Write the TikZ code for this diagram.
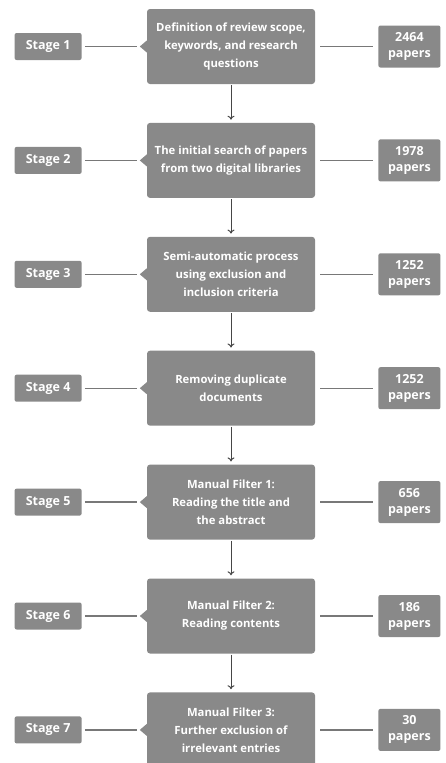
\documentclass[tikz,border=0pt]{standalone}
\usepackage{fontspec}
\setmainfont{Open Sans}
\usetikzlibrary{arrows.meta, positioning}
\definecolor{boxgray}{RGB}{137, 137, 137}
\definecolor{linkgray}{RGB}{120, 120, 120}
\definecolor{arrowgray}{RGB}{70, 70, 70}
\tikzset{
    stepbox/.style={rectangle, fill=boxgray, text=white, minimum width=168pt, minimum height=75pt, align=center, rounded corners=3pt, font=\bfseries\fontsize{11.3}{18}\selectfont},
    stagebox/.style={rectangle, fill=boxgray, text=white, minimum width=67pt, minimum height=27pt, rounded corners=2pt, font=\bfseries\fontsize{12.5}{15}\selectfont},
    countbox/.style={rectangle, fill=boxgray, text=white, minimum width=62pt, minimum height=42pt, align=center, rounded corners=2pt, font=\bfseries\fontsize{12.5}{16}\selectfont},
    pointer/.style={fill=boxgray},
    link/.style={linkgray, line width=1.3pt},
    arrow/.style={-{To[length=4pt, width=7pt]}, arrowgray, line width=1pt, shorten <=1pt, shorten >=3pt}
}
\begin{document}
\begin{tikzpicture}[x=1pt, y=1pt, node distance=38.5pt and 65pt]
            \useasboundingbox (0,0) rectangle (445,-763);
            % middle column
            \node (scope) [stepbox] at (231,-46.5) {Definition of review scope,\\keywords, and research\\questions};
            \node (search) [stepbox, below=of scope] {The initial search of papers\\from two digital libraries};
            \node (semiauto) [stepbox, below=of search] {Semi-automatic process\\using exclusion and\\inclusion criteria};
            \node (dedup) [stepbox, below=of semiauto] {Removing duplicate\\documents};
            \node (filter1) [stepbox, below=of dedup] {Manual Filter 1:\\Reading the title and\\the abstract};
            \node (filter2) [stepbox, below=of filter1] {Manual Filter 2:\\Reading contents};
            \node (filter3) [stepbox, below=of filter2] {Manual Filter 3:\\Further exclusion of\\irrelevant entries};

            % stages
            \node (stage1) [stagebox, left=65pt of scope] {Stage 1};
            \node (stage2) [stagebox, left=65pt of search] {Stage 2};
            \node (stage3) [stagebox, left=65pt of semiauto] {Stage 3};
            \node (stage4) [stagebox, left=65pt of dedup] {Stage 4};
            \node (stage5) [stagebox, left=65pt of filter1] {Stage 5};
            \node (stage6) [stagebox, left=65pt of filter2] {Stage 6};
            \node (stage7) [stagebox, left=65pt of filter3] {Stage 7};

            % paper counts
            \node (count1) [countbox, right=63pt of scope] {2464\\papers};
            \node (count2) [countbox, right=63pt of search] {1978\\papers};
            \node (count3) [countbox, right=63pt of semiauto] {1252\\papers};
            \node (count4) [countbox, right=63pt of dedup] {1252\\papers};
            \node (count5) [countbox, right=63pt of filter1] {656\\papers};
            \node (count6) [countbox, right=63pt of filter2] {186\\papers};
            \node (count7) [countbox, right=63pt of filter3] {30\\papers};

            % pointers
            \fill [pointer] ([yshift=6pt]scope.west) -- ([xshift=-7pt]scope.west) -- ([yshift=-6pt]scope.west) -- cycle;
            \fill [pointer] ([yshift=6pt]search.west) -- ([xshift=-7pt]search.west) -- ([yshift=-6pt]search.west) -- cycle;
            \fill [pointer] ([yshift=6pt]semiauto.west) -- ([xshift=-7pt]semiauto.west) -- ([yshift=-6pt]semiauto.west) -- cycle;
            \fill [pointer] ([yshift=6pt]dedup.west) -- ([xshift=-7pt]dedup.west) -- ([yshift=-6pt]dedup.west) -- cycle;
            \fill [pointer] ([yshift=6pt]filter1.west) -- ([xshift=-7pt]filter1.west) -- ([yshift=-6pt]filter1.west) -- cycle;
            \fill [pointer] ([yshift=6pt]filter2.west) -- ([xshift=-7pt]filter2.west) -- ([yshift=-6pt]filter2.west) -- cycle;
            \fill [pointer] ([yshift=6pt]filter3.west) -- ([xshift=-7pt]filter3.west) -- ([yshift=-6pt]filter3.west) -- cycle;

            \draw [link, shorten <=3pt, shorten >=10pt] (stage1) -- (scope);
            \draw [link, shorten <=3pt, shorten >=10pt] (stage2) -- (search);
            \draw [link, shorten <=3pt, shorten >=10pt] (stage3) -- (semiauto);
            \draw [link, shorten <=3pt, shorten >=10pt] (stage4) -- (dedup);
            \draw [link, shorten <=3pt, shorten >=10pt] (stage5) -- (filter1);
            \draw [link, shorten <=3pt, shorten >=10pt] (stage6) -- (filter2);
            \draw [link, shorten <=3pt, shorten >=10pt] (stage7) -- (filter3);

            \draw [link, shorten <=5pt, shorten >=5pt] (scope) -- (count1);
            \draw [link, shorten <=5pt, shorten >=5pt] (search) -- (count2);
            \draw [link, shorten <=5pt, shorten >=5pt] (semiauto) -- (count3);
            \draw [link, shorten <=5pt, shorten >=5pt] (dedup) -- (count4);
            \draw [link, shorten <=5pt, shorten >=5pt] (filter1) -- (count5);
            \draw [link, shorten <=5pt, shorten >=5pt] (filter2) -- (count6);
            \draw [link, shorten <=5pt, shorten >=5pt] (filter3) -- (count7);

            \draw [arrow] (scope) -- (search);
            \draw [arrow] (search) -- (semiauto);
            \draw [arrow] (semiauto) -- (dedup);
            \draw [arrow] (dedup) -- (filter1);
            \draw [arrow] (filter1) -- (filter2);
            \draw [arrow] (filter2) -- (filter3);
        \end{tikzpicture}
\end{document}
